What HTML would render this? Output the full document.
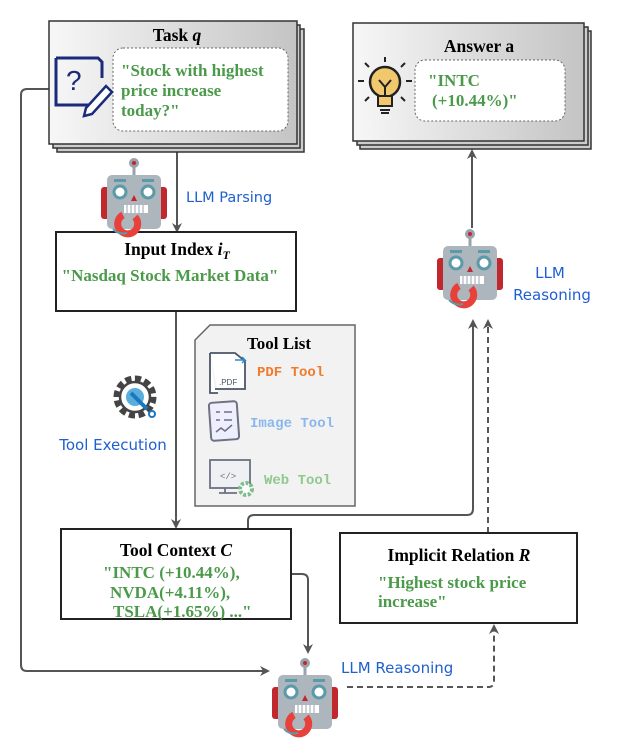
<!DOCTYPE html>
<html><head><meta charset="utf-8"><style>
html,body{margin:0;padding:0;background:#fff;}
svg{display:block;}
.t{font-family:"Liberation Serif",serif;font-weight:bold;}
.g{fill:#4a9a4a;}
.c{font-family:"Comic Sans MS","DejaVu Sans",sans-serif;fill:#1f5fd0;}
.m{font-family:"Liberation Mono",monospace;font-weight:bold;}
</style></head><body>
<svg width="622" height="748" viewBox="0 0 622 748" xmlns="http://www.w3.org/2000/svg">
<defs>
<linearGradient id="gr" x1="0" x2="1" y1="0" y2="0"><stop offset="0" stop-color="#f7f7f7"/><stop offset="1" stop-color="#c4c4c4"/></linearGradient>
<marker id="ar" markerWidth="10" markerHeight="10" refX="8" refY="5" orient="auto" markerUnits="userSpaceOnUse"><path d="M0,0 L10,5 L0,10 L3,5 z" fill="#555"/></marker>
<g id="robot">
<line x1="33" y1="5" x2="33" y2="20" stroke="#9aa3ad" stroke-width="3"/>
<circle cx="33" cy="6" r="5" fill="#9aa3ad"/><circle cx="33" cy="6" r="2" fill="#c0282d"/>
<rect x="0" y="30" width="10" height="32" rx="3" fill="#c0282d"/>
<rect x="56" y="30" width="10" height="32" rx="3" fill="#c0282d"/>
<rect x="6" y="18" width="54" height="54" rx="5" fill="#adb5bd"/>
<rect x="13" y="22" width="12" height="3" fill="#5b9aa8"/><rect x="41" y="22" width="12" height="3" fill="#5b9aa8"/>
<circle cx="19" cy="35" r="6" fill="#fff" stroke="#5b9aa8" stroke-width="3"/>
<circle cx="47" cy="35" r="6" fill="#fff" stroke="#5b9aa8" stroke-width="3"/>
<path d="M30,44 L33,38 L36,44 z" fill="#c0282d"/>
<rect x="23" y="48" width="24" height="8" fill="#fff"/>
<path d="M26,48 v8 M30,48 v8 M34,48 v8 M38,48 v8 M42,48 v8" stroke="#adb5bd" stroke-width="1.2"/>
<path d="M22,58 a10,10 0 1 0 12,2" fill="none" stroke="#e8403a" stroke-width="7"/>
<path d="M12,72 q6,6 14,4" fill="none" stroke="#5b9aa8" stroke-width="2"/>
</g>
</defs>

<path d="M50,89 H27 Q21,89 21,95 V665 Q21,671 27,671 H268" fill="none" stroke="#555" stroke-width="2" marker-end="url(#ar)"/>
<line x1="177" y1="152" x2="177" y2="231" stroke="#555" stroke-width="2" marker-end="url(#ar)"/>
<line x1="176" y1="311" x2="176" y2="527" stroke="#555" stroke-width="2" marker-end="url(#ar)"/>
<path d="M248,529 V521 Q248,515 254,515 H467 Q473,515 473,509 V321" fill="none" stroke="#555" stroke-width="2" marker-end="url(#ar)"/>
<line x1="488" y1="533" x2="488" y2="321" stroke="#555" stroke-width="2" stroke-dasharray="6,4" marker-end="url(#ar)"/>
<line x1="472" y1="228" x2="472" y2="151" stroke="#555" stroke-width="2" marker-end="url(#ar)"/>
<path d="M291,574 H302 Q308,574 308,580 V652" fill="none" stroke="#555" stroke-width="2" marker-end="url(#ar)"/>
<path d="M347,687 H488 Q494,687 494,681 V626" fill="none" stroke="#555" stroke-width="2" stroke-dasharray="6,4" marker-end="url(#ar)"/>

<rect x="57" y="29" width="247" height="123" fill="#ccc" stroke="#333" stroke-width="1.5"/>
<rect x="53" y="25" width="247" height="123" fill="#ccc" stroke="#333" stroke-width="1.5"/>
<rect x="49" y="21" width="248" height="123" fill="url(#gr)" stroke="#333" stroke-width="1.5"/>
<text x="177" y="41" class="t" font-size="17.5" text-anchor="middle">Task <tspan font-style="italic">q</tspan></text>
<rect x="113" y="48" width="175" height="83" rx="10" fill="#fff" stroke="#666" stroke-dasharray="2,2"/>
<text x="121" y="76" class="t g" font-size="17">"Stock with highest</text>
<text x="121" y="96" class="t g" font-size="17">price increase</text>
<text x="121" y="116" class="t g" font-size="17">today?"</text>
<path d="M56,58 H98 L102,62 V78 M92,105 H56 V58" fill="none" stroke="#1b2a7a" stroke-width="3"/>
<text x="66" y="90" font-family="Liberation Sans,sans-serif" font-size="28" fill="#1b2a7a">?</text>
<path d="M86,108 L106,86 L112,92 L92,114 L84,116 z" fill="#fff" stroke="#1b2a7a" stroke-width="2.5"/>

<rect x="360" y="31" width="231" height="118" fill="#ccc" stroke="#333" stroke-width="1.5"/>
<rect x="357" y="27" width="231" height="118" fill="#ccc" stroke="#333" stroke-width="1.5"/>
<rect x="353" y="23" width="231" height="118" fill="url(#gr)" stroke="#333" stroke-width="1.5"/>
<text x="479" y="52" class="t" font-size="17.5" text-anchor="middle">Answer a</text>
<rect x="415" y="60" width="150" height="61" rx="10" fill="#fff" stroke="#666" stroke-dasharray="2,2"/>
<text x="428" y="86" class="t g" font-size="17">"INTC</text>
<text x="432" y="106" class="t g" font-size="17">(+10.44%)"</text>
<circle cx="385" cy="82" r="15" fill="#f2c86e" stroke="#222" stroke-width="2.5"/>
<rect x="378" y="96" width="14" height="10" fill="#f2c86e" stroke="#222" stroke-width="2"/>
<path d="M380,110 h10 M381,113 h8" stroke="#222" stroke-width="2"/>
<path d="M379,80 l6,7 l6,-7 M385,87 v9" fill="none" stroke="#222" stroke-width="2"/>
<path d="M358,81 h6 M406,81 h6 M365,63 l4,4 M405,63 l-4,4 M385,57 v5 M365,101 l4,-4 M405,101 l-4,-4" stroke="#222" stroke-width="2"/>

<rect x="56" y="232" width="240" height="79" fill="#fff" stroke="#222" stroke-width="2"/>
<text x="177" y="255" class="t" font-size="17.5" text-anchor="middle">Input Index <tspan font-style="italic">i</tspan><tspan font-style="italic" font-size="12" dy="4">T</tspan></text>
<text x="170" y="281" class="t g" font-size="17" text-anchor="middle">"Nasdaq Stock Market Data"</text>

<use href="#robot" x="101" y="157"/>
<text x="186" y="202" class="c" font-size="14.5">LLM Parsing</text>
<use href="#robot" x="437" y="228"/>
<text x="550" y="278" class="c" font-size="15" text-anchor="middle">LLM</text>
<text x="552" y="300" class="c" font-size="15" text-anchor="middle">Reasoning</text>
<use href="#robot" x="272" y="657"/>
<text x="341" y="673" class="c" font-size="15">LLM Reasoning</text>

<g transform="translate(135,397)">
<circle r="18" fill="none" stroke="#444" stroke-width="7" stroke-dasharray="6,3.4"/>
<circle r="15" fill="#fff" stroke="#444" stroke-width="2.5"/>
<circle r="9" fill="#5aaedc"/>
<path d="M-4,-4 L12,12" stroke="#1a78c2" stroke-width="4"/>
<circle cx="17" cy="17" r="3" fill="none" stroke="#1a78c2" stroke-width="2"/>
</g>
<text x="113" y="450" class="c" font-size="15" text-anchor="middle">Tool Execution</text>

<path d="M210,325 H355 V506 H195 V340 z" fill="#f2f2f2" stroke="#666" stroke-width="1.5"/>
<text x="279" y="349" class="t" font-size="17" text-anchor="middle">Tool List</text>
<path d="M210,353 h25 l10,8 v28 h-30 M210,353 v40 h8" fill="#fff" stroke="#4a5568" stroke-width="1.8"/>
<text x="219" y="385" font-family="Liberation Sans,sans-serif" font-size="8" fill="#4a5568">.PDF</text>
<path d="M235,360 h10 l-3,-3 M245,360 l-3,3" fill="none" stroke="#2d8ad0" stroke-width="1.5"/>
<text x="257" y="376" class="m" font-size="14" fill="#f07b2a">PDF Tool</text>
<rect x="210" y="402" width="28" height="38" rx="3" fill="#eef" stroke="#6b7280" stroke-width="2" transform="rotate(-4 224 421)"/>
<path d="M216,412 h4 M224,412 h8 M216,420 h4 M224,420 h8 M216,432 l5,-4 l4,3 l7,-6" fill="none" stroke="#6b7280" stroke-width="1.5"/>
<text x="250" y="427" class="m" font-size="14" fill="#8ab8ec">Image Tool</text>
<rect x="210" y="460" width="40" height="28" fill="#eef0f4" stroke="#6b7280" stroke-width="1.8"/>
<text x="220" y="479" font-family="Liberation Mono,monospace" font-size="9" fill="#6b7280">&lt;/&gt;</text>
<path d="M225,488 v5 h-6 h18" stroke="#6b7280" stroke-width="1.8" fill="none"/>
<circle cx="246" cy="489" r="6" fill="#fff" stroke="#7dbf8c" stroke-width="4" stroke-dasharray="3,1.6"/>
<text x="264" y="484" class="m" font-size="14" fill="#8fc98f">Web Tool</text>

<rect x="61" y="529" width="230" height="90" fill="#fff" stroke="#222" stroke-width="2"/>
<text x="176" y="556" class="t" font-size="17.5" text-anchor="middle">Tool Context <tspan font-style="italic">C</tspan></text>
<text x="103" y="578" class="t g" font-size="17">"INTC (+10.44%),</text>
<text x="110" y="598" class="t g" font-size="17">NVDA(+4.11%),</text>
<text x="113" y="617" class="t g" font-size="17">TSLA(+1.65%) ..."</text>

<rect x="340" y="533" width="237" height="90" fill="#fff" stroke="#222" stroke-width="2"/>
<text x="459" y="561" class="t" font-size="17.5" text-anchor="middle">Implicit Relation <tspan font-style="italic">R</tspan></text>
<text x="378" y="588" class="t g" font-size="17">"Highest stock price</text>
<text x="378" y="607" class="t g" font-size="17">increase"</text>
</svg>
</body></html>
